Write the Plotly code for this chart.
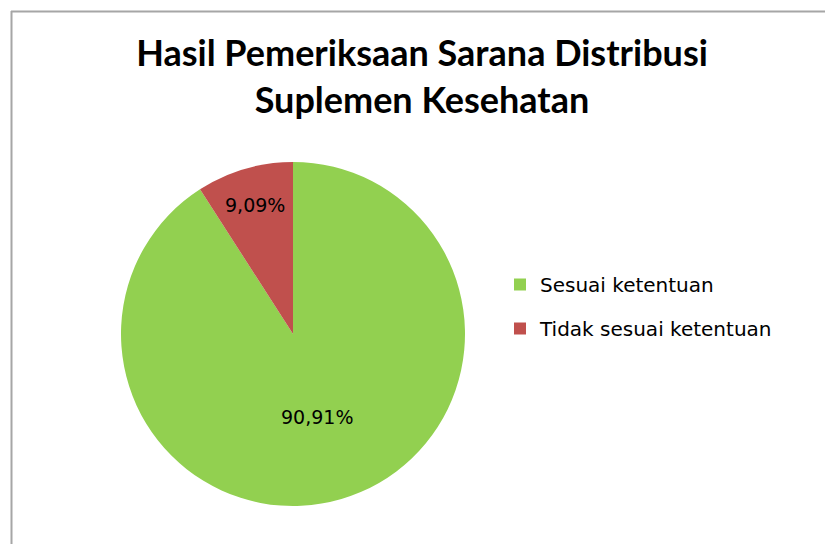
import plotly.graph_objects as go

labels = ["Sesuai ketentuan", "Tidak sesuai ketentuan"]
values = [10, 1]
colors = ["#92D050", "#C0504D"]
title_lines = ["Hasil Pemeriksaan Sarana Distribusi", "Suplemen Kesehatan"]

W, H = 825, 544

fig = go.Figure()
fig.add_trace(go.Pie(
    labels=labels, values=values, sort=False, direction="clockwise", rotation=0,
    marker=dict(colors=colors, line=dict(width=0)),
    texttemplate="%{percent:.2%}", textposition="inside", insidetextorientation="horizontal",
    textfont=dict(family="DejaVu Sans", size=19, color="#000000"),
    showlegend=False, hoverinfo="label+percent",
    domain=dict(x=[(293 - 173) / W, (293 + 173) / W], y=[1 - 506 / H, 1 - 162 / H]),
))

for lab, col in zip(labels, colors):
    fig.add_trace(go.Scatter(
        x=[None], y=[None], mode="markers", name=lab, legendgroup=lab,
        marker=dict(symbol="square", size=11, color=col), showlegend=True,
    ))

fig.update_layout(
    width=W, height=H,
    margin=dict(l=0, r=0, t=0, b=0),
    paper_bgcolor="white", plot_bgcolor="white",
    separators=",.",
    title=dict(text="<b>" + "<br>".join(title_lines) + "</b>", x=422 / W, xanchor="center",
               y=1 - 66 / H, yanchor="top",
               font=dict(family="Lato", size=36, color="#000000")),
    xaxis=dict(visible=False), yaxis=dict(visible=False),
    legend=dict(x=500 / W, y=1 - 265 / H, xanchor="left", yanchor="top",
                font=dict(family="DejaVu Sans", size=20, color="#000000"),
                tracegroupgap=15, itemsizing="constant", bgcolor="rgba(0,0,0,0)"),
    shapes=[
        dict(type="line", xref="paper", yref="paper", x0=11.5 / W, x1=11.5 / W, y0=0, y1=1 - 11 / H,
             line=dict(color="#A6A6A6", width=2)),
        dict(type="line", xref="paper", yref="paper", x0=11 / W, x1=1, y0=1 - 11.5 / H, y1=1 - 11.5 / H,
             line=dict(color="#A6A6A6", width=2)),
    ],
)

fig.write_html("out.html", config={"displayModeBar": False},
               post_script="document.body.style.margin='0';document.body.style.padding='0';")
